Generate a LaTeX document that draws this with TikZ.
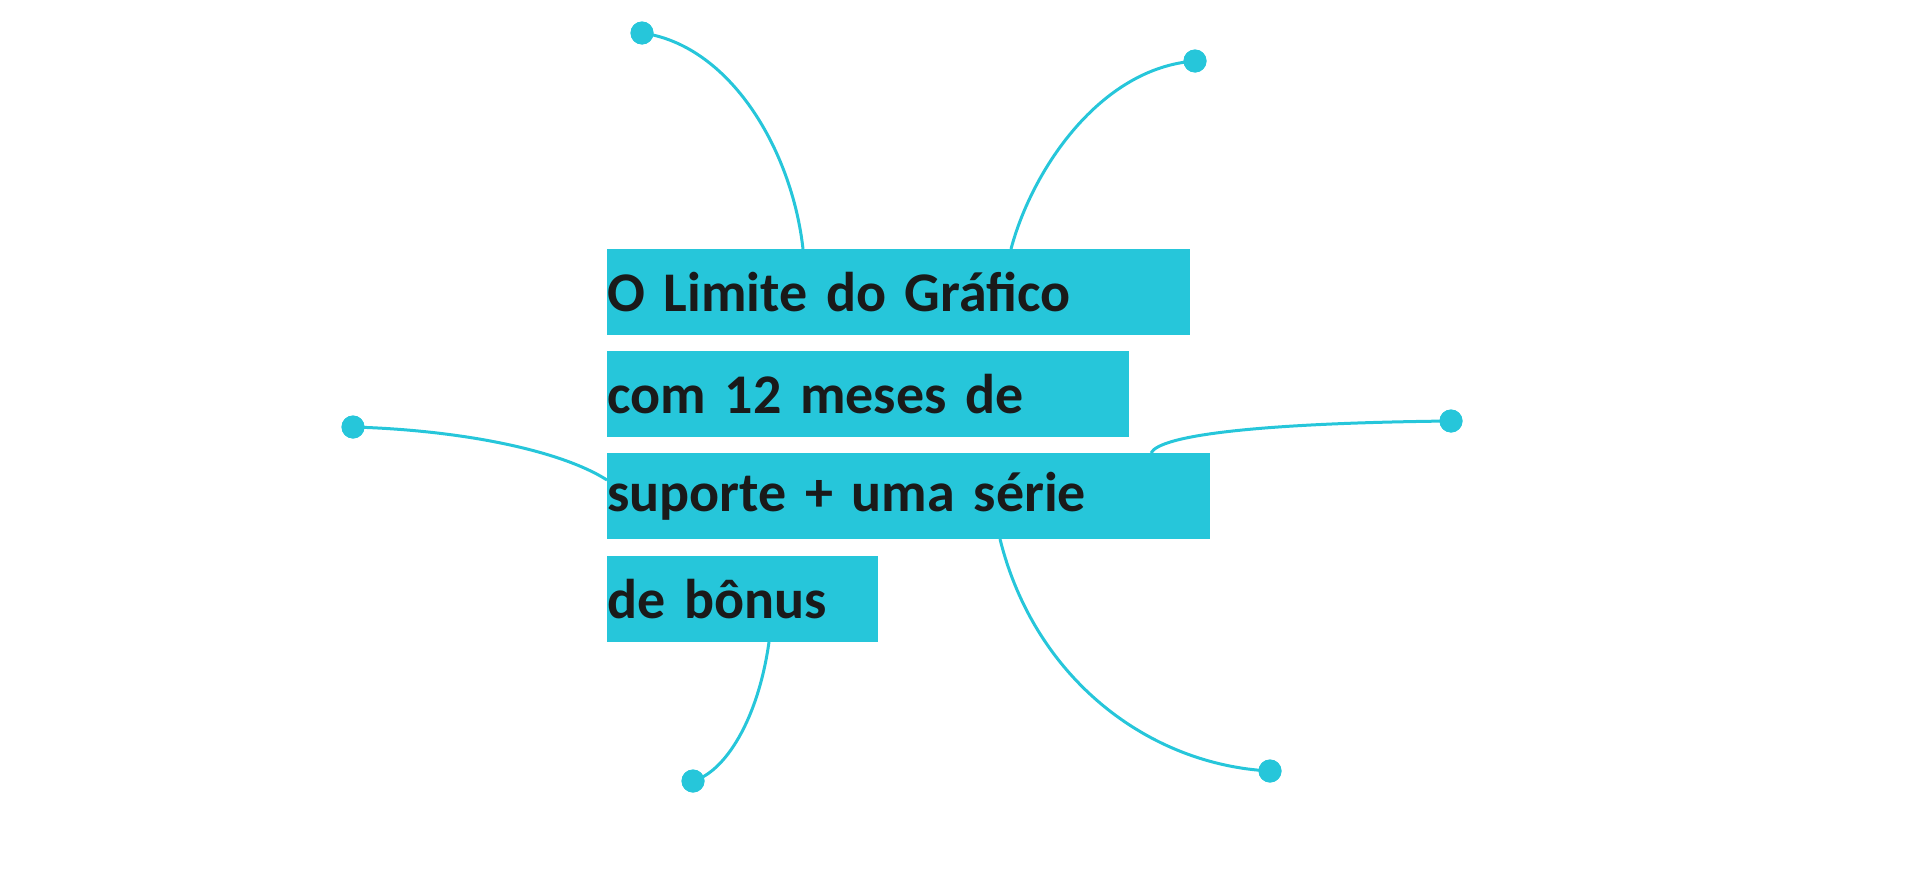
\documentclass[tikz,border=0pt]{standalone}
\usepackage{fontspec}
\setmainfont{Carlito}
\definecolor{cy}{HTML}{26C6DA}
\definecolor{ink}{HTML}{1A1A1A}
\begin{document}
\begin{tikzpicture}[x=1pt,y=-1pt,
  line/.style={draw=cy,line width=3pt},
  dot/.style={circle,fill=cy,minimum size=23pt,inner sep=0pt},
  bar/.style={fill=cy,anchor=north west,inner xsep=0pt,inner ysep=0pt,minimum height=86pt,align=left,text=ink,font=\fontsize{56}{60}\selectfont\bfseries}]
\useasboundingbox (0,0) rectangle (1920,878);
\node[bar,text width=583pt] (l1) at (607,249) {O Limite do Gráfico};
\node[bar,text width=522pt] (l2) at (607,351) {com 12 meses de};
\node[bar,text width=603pt] (l3) at (607,453) {suporte + uma série};
\node[bar,text width=271pt] (l4) at (607,556) {de bônus};
\node[dot] (d1) at (642,33) {};
\node[dot] (d2) at (1195,61) {};
\node[dot] (d3) at (1451,421) {};
\node[dot] (d4) at (1270,771) {};
\node[dot] (d5) at (693,781) {};
\node[dot] (d6) at (353,427) {};
\coordinate (e1) at (803,249);
\coordinate (e2) at (1011,249);
\coordinate (e3) at (1151,453);
\coordinate (e4) at (1000,539);
\coordinate (e5) at (769,642);
\coordinate (e6) at (607,480);
\begin{scope}[on background layer/.try]
\end{scope}
\draw[line] (d1.center) .. controls (730,45) and (792,150) .. (e1);
\draw[line] (d2.center) .. controls (1100,68) and (1032,170) .. (e2);
\draw[line] (d3.center) .. controls (1260,423) and (1160,435) .. (e3);
\draw[line] (e4) .. controls (1035,680) and (1150,765) .. (d4.center);
\draw[line] (e5) .. controls (758,720) and (725,772) .. (d5.center);
\draw[line] (d6.center) .. controls (460,430) and (560,450) .. (e6);
\node[dot] at (d1) {};\node[dot] at (d2) {};\node[dot] at (d3) {};
\node[dot] at (d4) {};\node[dot] at (d5) {};\node[dot] at (d6) {};
\end{tikzpicture}
\end{document}
